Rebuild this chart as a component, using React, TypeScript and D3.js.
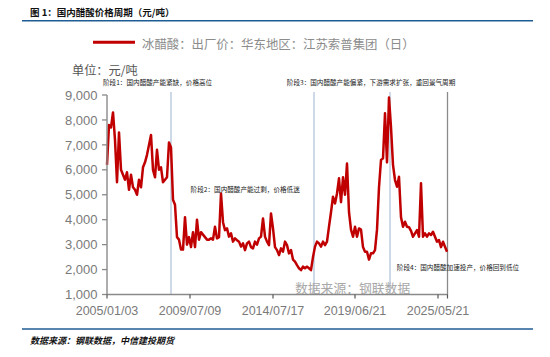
import React from "react";
import * as d3 from "d3";

// Daily-sampled price series (元/吨), evenly spaced on the category axis
const prices: number[] = [
  6200, 7800, 7700, 8300, 7200, 5500, 7500, 6000, 5800, 5600,
  5900, 5200, 5800, 5300, 5200, 5000, 5600, 5300, 6100, 6300,
  6600, 7000, 7400, 6000, 5700, 6800, 6000, 6100, 5500, 5600,
  5700, 7100, 6900, 4800, 4600, 3300, 3200, 2800, 2800, 4100,
  3000, 3300, 2900, 3500, 2900, 4000, 3200, 3500, 3400, 3300,
  3200, 3200, 3250, 3200, 3720, 3250, 3300, 5050, 3900, 3580,
  3650, 3320, 3450, 3120, 3250, 3180, 3120, 2920, 3050, 2780,
  3050, 3120, 2900, 2850, 3120, 3000, 3250, 3320, 4050, 3320,
  3120, 2980, 4250, 3650, 2900, 2780, 2580, 2850, 2720, 3120,
  2980, 2650, 2780, 2400, 2320, 2180, 2050, 1980, 2120, 2050,
  2120, 2050, 1980, 2500, 2920, 3120, 3050, 2920, 3120, 2980,
  3120, 3720, 4300, 4920, 4650, 5050, 5660, 4700, 5700, 5000,
  6250, 4300, 3600, 3317, 3718, 3317, 3650, 3600, 2900, 2715,
  2715, 2400, 2650, 2650, 2782, 3600, 5300, 6392, 6459, 8264,
  6300, 8900, 7700, 6200, 5590, 5323, 5724, 4100, 3718, 3919,
  3718, 3700, 3550, 3317, 3450, 3584, 3317, 5457, 3317, 3450,
  3317, 3450, 3384, 3517, 3317, 3117, 3183, 2900, 3117, 2916,
  2715,
];

const xTickIndex = [0, 41.5, 83, 124, 165.5];
const xTickLabels = ["2005/01/03", "2009/07/09", "2014/07/17", "2019/06/21", "2025/05/21"];
const yTicks = [1000, 2000, 3000, 4000, 5000, 6000, 7000, 8000, 9000];
const phaseIndex = [32, 103.5, 141.5];

const phaseTexts = [
  "阶段1：国内醋酸产能紧缺，价格高位",
  "阶段2：国内醋酸产能过剩，价格低迷",
  "阶段3：国内醋酸产能偏紧，下游需求扩张，重回景气周期",
  "阶段4：国内醋酸加速投产，价格回到低位",
];
const phaseTextIndex = [-2, 41.8, 89.9, 144.9];
const phaseTextValue = [9400, 5130, 9400, 1980];

const title = "图 1：国内醋酸价格周期（元/吨）";
const legendLabel = "冰醋酸：出厂价：华东地区：江苏索普集团（日）";
const unitLabel = "单位：元/吨";
const watermark = "数据来源：钢联数据";
const footer = "数据来源：钢联数据，中信建投期货";

const W = 550;
const H = 357;
const CJK = "'Noto Sans CJK SC', sans-serif";
const SANS = "'Liberation Sans', Arial, sans-serif";

export default function App() {
  const x = d3.scaleLinear().domain([0, prices.length - 1]).range([107, 447]);
  const y = d3.scaleLinear().domain([1000, 9000]).range([294.5, 95]);
  const line = d3
    .line<number>()
    .x((_, i) => x(i))
    .y((d) => y(d))
    .curve(d3.curveLinear);
  const fmt = d3.format(",");
  const axisColor = "#8a8a8a";
  const labelColor = "#7a7a7a";

  return (
    <svg
      width={W}
      height={H}
      style={{ position: "absolute", left: 0, top: 0, background: "#fff" }}
    >
      {/* title */}
      <text x={30} y={16} fontFamily={CJK} fontWeight="bold" fontSize={9.5} fill="#111">
        {title}
      </text>
      <line x1={22} x2={533} y1={20.8} y2={20.8} stroke="#1f5c94" strokeWidth={1.6} />

      {/* legend */}
      <line x1={93} x2={135} y1={42.3} y2={42.3} stroke="#c00000" strokeWidth={3} />
      <text x={142} y={48.5} fontFamily={CJK} fontSize={12.4} fill="#8c8c8c">
        {legendLabel}
      </text>

      {/* unit */}
      <text x={72} y={74.5} fontFamily={CJK} fontSize={12.2} fill="#555">
        {unitLabel}
      </text>

      {/* phase separators */}
      {phaseIndex.map((p, i) => (
        <line key={i} x1={x(p)} x2={x(p)} y1={92} y2={294.5} stroke="#9db3d1" strokeWidth={1} />
      ))}
      <line
        x1={x(prices.length - 1) + 0.5}
        x2={x(prices.length - 1) + 0.5}
        y1={92}
        y2={294.5}
        stroke="#8a8a8a"
        strokeWidth={1.3}
      />

      {/* watermark */}
      <text x={295} y={293} fontFamily={CJK} fontSize={12.8} fill="#a8a8a8">
        {watermark}
      </text>

      {/* data line */}
      <path d={line(prices) ?? ""} fill="none" stroke="#c00000" strokeWidth={2.5} strokeLinejoin="round" />

      {/* y axis */}
      <line x1={107} x2={107} y1={y(9000)} y2={y(1000)} stroke={axisColor} strokeWidth={1.4} />
      {yTicks.map((t) => (
        <g key={t}>
          <line x1={102} x2={107} y1={y(t)} y2={y(t)} stroke={axisColor} strokeWidth={1.3} />
          <text
            x={97.5}
            y={y(t)}
            dy="0.36em"
            textAnchor="end"
            fontFamily={SANS}
            fontSize={13}
            fill={labelColor}
          >
            {fmt(t)}
          </text>
        </g>
      ))}

      {/* x axis */}
      <line x1={107} x2={x(prices.length - 1) + 1} y1={y(1000)} y2={y(1000)} stroke={axisColor} strokeWidth={1.4} />
      {xTickIndex.map((t, i) => (
        <g key={i}>
          <line x1={x(t)} x2={x(t)} y1={y(1000)} y2={y(1000) + 4} stroke="#555" strokeWidth={1.2} />
          <text
            x={x(t)}
            y={314.5}
            textAnchor="middle"
            fontFamily={SANS}
            fontSize={12.5}
            fill={labelColor}
          >
            {xTickLabels[i]}
          </text>
        </g>
      ))}
      <line
        x1={x(prices.length - 1) + 0.5}
        x2={x(prices.length - 1) + 0.5}
        y1={y(1000)}
        y2={y(1000) + 4}
        stroke="#555"
        strokeWidth={1.2}
      />

      {/* phase annotations */}
      {phaseTexts.map((t, i) => (
        <text
          key={i}
          x={x(phaseTextIndex[i])}
          y={y(phaseTextValue[i])}
          fontFamily={CJK}
          fontSize={6.6}
          fill="#222"
        >
          {t}
        </text>
      ))}

      {/* footer */}
      <line x1={22} x2={533} y1={329} y2={329} stroke="#1f5c94" strokeWidth={1.6} />
      <text
        x={30}
        y={344}
        fontFamily={CJK}
        fontWeight="bold"
        fontStyle="italic"
        fontSize={9}
        fill="#111"
      >
        {footer}
      </text>
    </svg>
  );
}
